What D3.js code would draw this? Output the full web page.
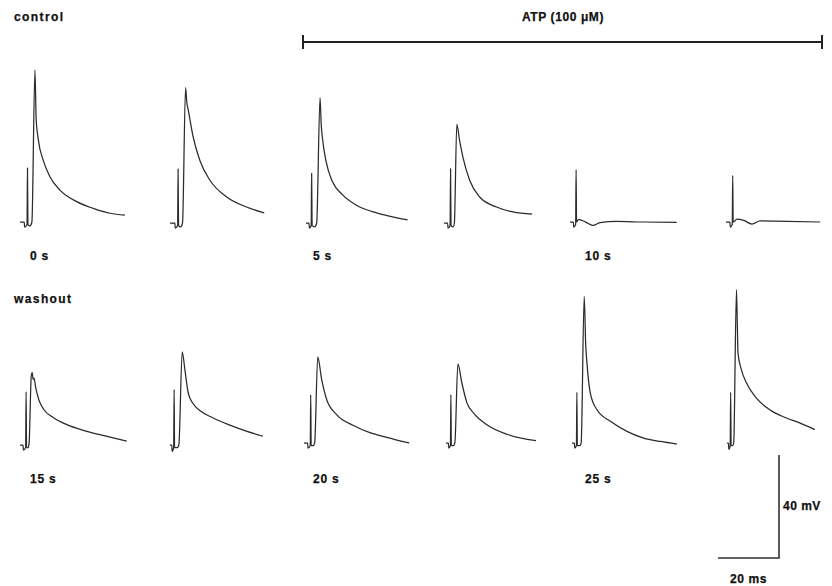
<!DOCTYPE html>
<html>
<head>
<meta charset="utf-8">
<script src="https://cdn.jsdelivr.net/npm/d3@7"></script>
<style>
  body { margin: 0; background: #fff; }
  svg text { font-family: "Liberation Sans", Arial, Helvetica, sans-serif; font-weight: bold; fill: #111; stroke: #111; stroke-width: 0.25px; }
</style>
</head>
<body>
<svg id="chart"></svg>
<script>
// recordings: [time (ms), membrane potential (mV, relative to resting)]
const trace0s  = [[0,0],[1.4,0],[1.5,-2],[2.3,-1],[2.45,21],[2.6,-1],[3.3,-1.5],[3.9,0],[4.9,59],[5.3,40],[6.0,32],[7.6,24],[9.8,17.6],[13.1,12.4],[18.6,7.9],[24.0,5.3],[29.5,3.4],[34.4,2.7]];
const trace2s  = [[0,0],[1.6,0],[1.7,-2],[2.5,-1],[2.65,21],[2.8,-1],[3.5,-1.5],[4.1,0],[5.1,52.6],[5.5,47],[6.0,43.8],[7.6,33.4],[9.8,24.3],[13.1,16.6],[18.6,10.1],[25.1,6.2],[30.9,3.9]];
const trace5s  = [[0,0],[1.0,0],[1.1,-2],[1.7,-1],[1.85,19.3],[2.0,-1],[2.8,-1.5],[3.5,0],[4.6,48.7],[5.0,38],[5.4,32.9],[6.6,23.8],[8.7,16.0],[12.0,10.9],[16.4,7.0],[21.8,4.4],[27.3,2.7],[33.3,1.2]];
const trace7s  = [[0,0],[1.2,0],[1.3,-2],[2.0,-1],[2.15,21.1],[2.3,-1],[3.0,-1.5],[3.4,0],[4.2,38.3],[5.1,32.1],[6.2,25.6],[8.4,16.6],[11.7,10.1],[17.2,6.2],[22.6,4.3],[28.9,3.4]];
const trace10s = [[0,0],[1.1,0],[1.2,-2],[1.85,-1],[2.0,20.3],[2.15,0],[2.7,0.9],[4.4,0.4],[6.0,-0.6],[7.6,-1.3],[9.8,-0.2],[15.3,0.2],[24.0,0],[35.0,-0.1]];
const trace12s = [[0,0],[1.3,0],[1.4,-2],[2.05,-1],[2.2,18.1],[2.35,0],[3.6,1.1],[5.8,0.6],[8.5,-0.8],[11.2,0.4],[16.7,0.3],[30.9,0]];
const trace15s = [[0,0],[1.0,0],[1.1,-2],[1.85,-1],[2.0,20.7],[2.15,-1],[2.7,-1],[3.0,1],[3.7,27],[4.0,28.1],[4.3,25.5],[4.6,26],[5.1,22.6],[6.2,17.5],[7.8,13.8],[11.0,10.6],[15.4,7.9],[20.8,5.7],[26.2,4.0],[35.0,1.5]];
const trace17s = [[0,0],[0.6,0],[0.7,-2.5],[1.2,-1],[1.35,21.6],[1.5,-1],[2.4,-1],[2.9,0],[4.0,36.2],[4.9,29.1],[6.0,20.1],[7.6,16.0],[10.0,13.2],[14.0,10.6],[19.0,8.0],[25.0,5.4],[30.5,3.4]];
const trace20s = [[0,0],[1.2,0],[1.3,-2],[2.05,-1],[2.2,18.8],[2.35,-1],[3.0,-1],[3.5,0],[4.5,33.4],[5.8,24.6],[7.4,17.0],[10.7,11.0],[16.2,6.8],[21.6,4.0],[27.1,2.2],[34.5,0]];
const trace22s = [[0,0],[0.8,0],[0.9,-2],[1.45,-1],[1.6,18.8],[1.75,-1],[2.4,-1],[2.9,0],[3.9,30.7],[5.2,23.3],[6.9,15.5],[9.0,11.7],[13.4,7.1],[20.0,3.4],[29.5,0.9]];
const trace25s = [[0,0],[0.8,0],[0.9,-2],[1.45,-1],[1.6,19.7],[1.75,-1],[2.5,-1],[3.0,0],[4.0,56.9],[4.5,38],[4.9,31.1],[6.0,19.4],[8.2,12.9],[12.6,8.4],[18.0,4.5],[23.5,1.9],[29.0,0.6],[34.4,-0.4]];
const trace27s = [[0,0],[0.5,0],[0.6,-2.5],[1.05,-1],[1.2,19.7],[1.35,-1],[1.9,-1],[2.2,0],[3.1,59.5],[3.4,45],[3.6,35],[4.7,28.5],[6.4,23.3],[9.6,17.5],[14.0,12.9],[19.5,9.7],[23.8,7.8],[28.8,5.2]];

const timeLabels = ['0 s', '5 s', '10 s', '15 s', '20 s', '25 s'];
const rowLabels = ['control', 'washout'];
const drugLabel = 'ATP (100 \u03bcM)';
const scaleBarTime = 20;   // ms
const scaleBarVolt = 40;   // mV

const width = 832, height = 586;

const svg = d3.select('#chart')
  .attr('width', width)
  .attr('height', height);

// shared scales: 20 ms ~ 61 px, 40 mV ~ 103 px
const x = d3.scaleLinear().domain([0, 20]).range([0, 61]);
const y = d3.scaleLinear().domain([0, 40]).range([0, -103]);

const line = d3.line()
  .x(d => x(d[0]))
  .y(d => y(d[1]))
  .curve(d3.curveMonotoneX);

// panel origins (left end of trace, baseline)
const panels = [
  { data: trace0s,  ox: 20,  oy: 222 },
  { data: trace2s,  ox: 170, oy: 223 },
  { data: trace5s,  ox: 306, oy: 223 },
  { data: trace7s,  ox: 444, oy: 223 },
  { data: trace10s, ox: 570, oy: 222 },
  { data: trace12s, ox: 726, oy: 222 },
  { data: trace15s, ox: 20,  oy: 445 },
  { data: trace17s, ox: 170, oy: 445 },
  { data: trace20s, ox: 304, oy: 443 },
  { data: trace22s, ox: 446, oy: 443 },
  { data: trace25s, ox: 572, oy: 443 },
  { data: trace27s, ox: 727, oy: 443 }
];

svg.selectAll('.trace')
  .data(panels)
  .enter()
  .append('path')
    .attr('class', 'trace')
    .attr('transform', d => `translate(${d.ox},${d.oy})`)
    .attr('d', d => line(d.data))
    .attr('fill', 'none')
    .attr('stroke', '#2b2b2b')
    .attr('stroke-width', 1.25)
    .attr('stroke-linejoin', 'round');

// time labels under every other trace
const labelPos = [[30, 260], [313, 260], [585, 260], [30, 483], [313, 483], [585, 483]];
svg.selectAll('.tlabel')
  .data(timeLabels)
  .enter()
  .append('text')
    .attr('class', 'tlabel')
    .attr('x', (d, i) => labelPos[i][0])
    .attr('y', (d, i) => labelPos[i][1])
    .style('font-size', '12px')
    .style('letter-spacing', '0.8px')
    .text(d => d);

// row labels
svg.selectAll('.rlabel')
  .data(rowLabels)
  .enter()
  .append('text')
    .attr('class', 'rlabel')
    .attr('x', 14)
    .attr('y', (d, i) => i === 0 ? 21 : 303)
    .style('font-size', '12px')
    .style('letter-spacing', '1.4px')
    .text(d => d);

// drug application bar
const bar = svg.append('g').attr('stroke', '#222');
bar.append('line').attr('x1', 303).attr('x2', 822).attr('y1', 42).attr('y2', 42).attr('stroke-width', 2);
bar.append('line').attr('x1', 303).attr('x2', 303).attr('y1', 35).attr('y2', 49).attr('stroke-width', 2);
bar.append('line').attr('x1', 822).attr('x2', 822).attr('y1', 35).attr('y2', 49).attr('stroke-width', 2);

svg.append('text')
  .attr('x', 563)
  .attr('y', 21)
  .style('text-anchor', 'middle')
  .style('font-size', '12px')
  .style('letter-spacing', '0.6px')
  .text(drugLabel);

// scale bar
const sb = svg.append('g').attr('transform', 'translate(779,558)');
sb.append('path')
  .attr('d', `M${x(-scaleBarTime)},0 H0 V${y(scaleBarVolt)}`)
  .attr('fill', 'none')
  .attr('stroke', '#333')
  .attr('stroke-width', 1.6);

sb.append('text')
  .attr('x', 4)
  .attr('y', y(scaleBarVolt / 2) + 3)
  .style('font-size', '12px')
  .style('letter-spacing', '0.5px')
  .text(`${scaleBarVolt} mV`);

sb.append('text')
  .attr('x', x(-scaleBarTime / 2))
  .attr('y', 25)
  .style('text-anchor', 'middle')
  .style('font-size', '12px')
  .style('letter-spacing', '0.6px')
  .text(`${scaleBarTime} ms`);
</script>
</body>
</html>
